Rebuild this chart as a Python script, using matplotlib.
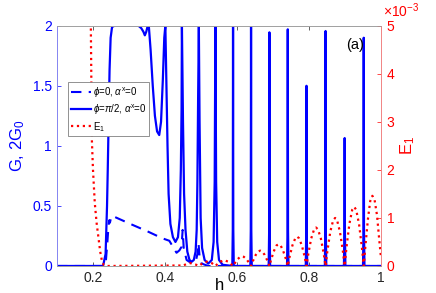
import numpy as np
import matplotlib
matplotlib.use("Agg")
import matplotlib.pyplot as plt
from matplotlib.ticker import ScalarFormatter

plt.rcParams['font.family'] = ['Liberation Sans', 'DejaVu Sans']
plt.rcParams['mathtext.fontset'] = 'custom'
plt.rcParams['mathtext.rm'] = 'Liberation Sans'
plt.rcParams['mathtext.it'] = 'Liberation Sans:italic'

# phi = pi/2 conductance (solid)
h_solid = [0.10, 0.228, 0.235, 0.239, 0.241, 0.244, 0.246, 0.249, 0.253, 0.26,
           0.30, 0.326, 0.334, 0.340, 0.344, 0.348, 0.352, 0.355, 0.360, 0.366,
           0.372, 0.378, 0.384, 0.389, 0.394, 0.398, 0.401,
           0.404, 0.407, 0.410, 0.415, 0.422, 0.429, 0.436, 0.441, 0.444, 0.446,
           0.447, 0.450, 0.453, 0.457, 0.462, 0.468, 0.474, 0.480, 0.485, 0.488,
           0.490, 0.492, 0.494, 0.496, 0.499, 0.503, 0.510, 0.520, 0.530, 0.535,
           0.538, 0.540, 0.542, 0.545, 0.550, 0.560,
           0.587, 0.5883, 0.589, 0.5897, 0.591,
           0.637, 0.6383, 0.639, 0.6397, 0.641,
           0.688, 0.6893, 0.690, 0.6907, 0.692,
           0.739, 0.7403, 0.741, 0.7417, 0.743,
           0.791, 0.7923, 0.793, 0.7937, 0.795,
           0.844, 0.8453, 0.846, 0.8467, 0.848,
           0.897, 0.8983, 0.899, 0.8997, 0.901,
           0.950, 0.9513, 0.952, 0.9527, 0.954, 1.00]
G_solid = [0.0, 0.0, 0.1, 0.5, 0.8, 1.3, 1.63, 1.9, 1.99, 2.0,
           2.0, 2.0, 1.98, 1.95, 1.92, 1.95, 2.0, 2.0, 1.8, 1.5,
           1.25, 1.12, 1.09, 1.2, 1.55, 1.9, 2.0,
           1.5, 1.0, 0.6, 0.35, 0.24, 0.2, 0.24, 0.4, 0.8, 1.3,
           2.0, 1.2, 0.6, 0.3, 0.12, 0.05, 0.035, 0.05, 0.12, 0.3,
           0.7, 1.4, 2.0, 1.2, 0.4, 0.15, 0.05, 0.02, 0.05, 0.2,
           0.7, 2.0, 0.7, 0.2, 0.05, 0.01,
           0.0, 0.3, 1.99, 0.3, 0.0,
           0.0, 0.3, 2.0, 0.3, 0.0,
           0.0, 0.3, 1.945, 0.3, 0.0,
           0.0, 0.3, 1.97, 0.3, 0.0,
           0.0, 0.3, 1.50, 0.3, 0.0,
           0.0, 0.3, 1.956, 0.3, 0.0,
           0.0, 0.3, 1.065, 0.3, 0.0,
           0.0, 0.3, 1.90, 0.3, 0.0, 0.0]

# phi = 0 conductance (dashed)
h_dash = [0.10, 0.230, 0.236, 0.240, 0.243, 0.245, 0.247, 0.250, 0.253, 0.30,
          0.35, 0.393, 0.412, 0.422, 0.432, 0.440, 0.446, 0.449, 0.452, 0.460,
          0.470, 0.485, 0.490, 0.493, 0.496, 0.502, 0.52, 1.00]
G_dash = [0.0, 0.0, 0.05, 0.2, 0.33, 0.38, 0.36, 0.40, 0.418, 0.355,
          0.29, 0.23, 0.21, 0.16, 0.11, 0.13, 0.16, 0.3, 0.15, 0.05,
          0.03, 0.03, 0.1, 0.19, 0.08, 0.02, 0.0, 0.0]

# E1 (right axis)
h_E = [0.10, 0.190, 0.194, 0.197, 0.200, 0.205, 0.210, 0.215, 0.220, 0.225, 0.230, 0.240,
       0.44, 0.447, 0.46, 0.47, 0.485, 0.494, 0.505, 0.517, 0.530, 0.540,
       0.552, 0.565, 0.577, 0.589,
       0.594, 0.6015, 0.609, 0.614, 0.619, 0.6265, 0.634, 0.639,
       0.644, 0.652, 0.659, 0.6645, 0.670, 0.677, 0.685, 0.690,
       0.695, 0.703, 0.710, 0.7155, 0.721, 0.728, 0.736, 0.741,
       0.746, 0.754, 0.762, 0.767, 0.772, 0.780, 0.788, 0.793,
       0.798, 0.806, 0.814, 0.8195, 0.825, 0.833, 0.841, 0.846,
       0.851, 0.859, 0.867, 0.8725, 0.878, 0.886, 0.894, 0.899,
       0.904, 0.912, 0.920, 0.9255, 0.931, 0.939, 0.947, 0.952,
       0.957, 0.964, 0.970, 0.976, 0.982, 0.989, 0.995, 1.000]
E1 = [30.0, 9.0, 5.0, 2.6, 2.0, 1.31, 0.9, 0.6, 0.3, 0.1, 0.02, 0.0,
      0.01, 0.0, 0.04, 0.06, 0.03, 0.0, 0.06, 0.09, 0.06, 0.0,
      0.085, 0.12, 0.085, 0.0,
      0.06, 0.14, 0.19, 0.20, 0.19, 0.14, 0.06, 0.0,
      0.10, 0.23, 0.30, 0.32, 0.30, 0.23, 0.10, 0.0,
      0.14, 0.32, 0.43, 0.45, 0.43, 0.32, 0.14, 0.0,
      0.19, 0.43, 0.58, 0.61, 0.58, 0.43, 0.19, 0.0,
      0.25, 0.57, 0.76, 0.80, 0.76, 0.57, 0.25, 0.0,
      0.31, 0.71, 0.95, 1.00, 0.95, 0.71, 0.31, 0.0,
      0.38, 0.87, 1.17, 1.23, 1.17, 0.87, 0.38, 0.0,
      0.45, 1.00, 1.35, 1.46, 1.38, 1.05, 0.55, 0.17]
E1 = np.array(E1) * 1e-3

x_ticks = [0.2, 0.4, 0.6, 0.8, 1.0]
x_labels = ['0.2', '0.4', '0.6', '0.8', '1']
g_ticks = [0, 0.5, 1, 1.5, 2]
g_labels = ['0', '0.5', '1', '1.5', '2']

fig = plt.figure(figsize=(4.36, 2.93), dpi=100)
ax = fig.add_axes([0.1307, 0.0922, 0.7432, 0.820])
ax2 = ax.twinx()

l1, = ax.plot(h_dash, G_dash, color='#0000ff', lw=1.5, dashes=(5, 3.5))
l2, = ax.plot(h_solid, G_solid, color='#0000ff', lw=1.6)
l3, = ax2.plot(h_E, E1, color='#ff0000', lw=1.6, linestyle=':')

ax.set_xlim(0.1, 1.0)
ax.set_ylim(0, 2)
ax2.set_ylim(0, 5e-3)

ax.set_xticks(x_ticks)
ax.set_xticklabels(x_labels)
ax.set_yticks(g_ticks)
ax.set_yticklabels(g_labels)
ax2.set_yticks([0, 1e-3, 2e-3, 3e-3, 4e-3, 5e-3])
fmt = ScalarFormatter(useMathText=True)
fmt.set_powerlimits((0, 0))
ax2.yaxis.set_major_formatter(fmt)
ax2.yaxis.get_offset_text().set_visible(False)

ax.tick_params(axis='x', direction='in', length=3, top=True, labelsize=10,
               colors='#262626', width=0.5)
ax.tick_params(axis='y', direction='in', length=3, labelsize=10, colors='#0000ff', width=0.5)
ax2.tick_params(axis='y', direction='in', length=3, labelsize=10, colors='#ff0000', width=0.5)

# exponent note above the right axis
ax2.text(1.005, 1.025, r'$\times10^{-3}$', transform=ax2.transAxes, fontsize=10,
         color='#ff0000', ha='left', va='bottom')

for a in (ax, ax2):
    for s in a.spines.values():
        s.set_linewidth(0.6)
        s.set_color('#a0a0a0')
ax2.spines['left'].set_color('#8080ff')
ax2.spines['right'].set_color('#ff8080')

ax.set_xlabel('h', fontsize=12, labelpad=-5)
ax.set_ylabel('G, 2G$_0$', fontsize=12, color='#0000ff', labelpad=4)
ax2.set_ylabel('E$_1$', fontsize=12, color='#ff0000', labelpad=2)

ax2.text(0.92, 0.92, '(a)', transform=ax2.transAxes, fontsize=10.5,
         ha='center', va='center')

leg = ax2.legend([l1, l2, l3],
                 [r'$\phi$=0, $\alpha^{\rm x}$=0', r'$\phi$=$\pi$/2, $\alpha^{\rm x}$=0', 'E$_1$'],
                 loc='upper left', bbox_to_anchor=(0.035, 0.765), fontsize=7,
                 frameon=True, fancybox=False, framealpha=1, edgecolor='#808080',
                 handlelength=2.0, handletextpad=0.2, borderpad=0.3,
                 labelspacing=0.3, borderaxespad=0)
leg.get_frame().set_linewidth(0.6)

fig.savefig('out.png', dpi=100)
